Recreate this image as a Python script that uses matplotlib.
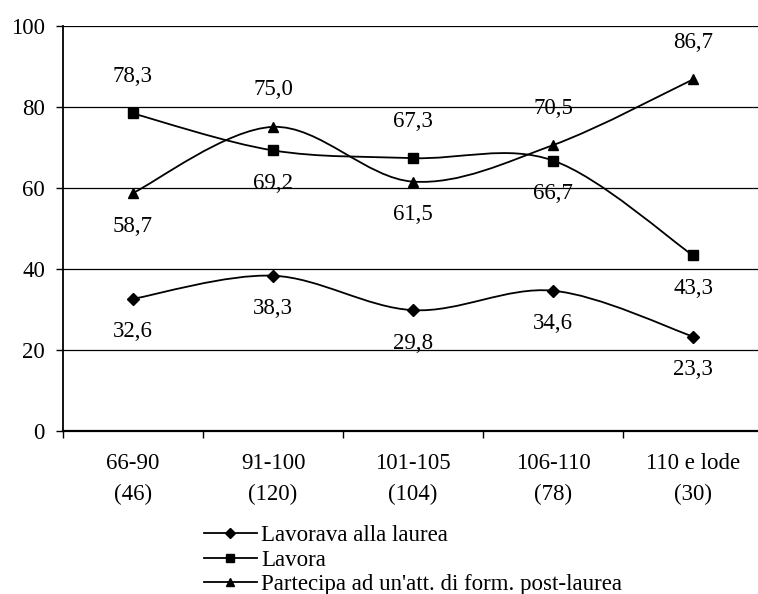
import matplotlib
matplotlib.use("Agg")
import matplotlib.pyplot as plt
from matplotlib.path import Path
from matplotlib.patches import PathPatch
from matplotlib.lines import Line2D
import numpy as np

categories = ["66-90\n(46)", "91-100\n(120)", "101-105\n(104)", "106-110\n(78)", "110 e lode\n(30)"]
lavorava = [32.6, 38.3, 29.8, 34.6, 23.3]
lavora = [78.3, 69.2, 67.3, 66.7, 43.3]
partecipa = [58.7, 75.0, 61.5, 70.5, 86.7]
series_names = ["Lavorava alla laurea", "Lavora", "Partecipa ad un'att. di form. post-laurea"]

# label placement: +1 above, -1 below
lavorava_pos = [-1, -1, -1, -1, -1]
lavora_pos = [1, -1, 1, -1, -1]
partecipa_pos = [-1, 1, -1, 1, 1]

plt.rcParams['font.family'] = ['Liberation Serif', 'DejaVu Serif']
FS = 16.5

fig = plt.figure(figsize=(7.58, 5.94), dpi=100)
ax = fig.add_axes([63/758, 1-431/594, 700/758, (431-25.5)/594])
ax.set_xlim(-0.5, 4.5)
ax.set_ylim(0, 100)


def smooth_path(xs, ys):
    pts = np.column_stack([xs, ys]).astype(float)
    n = len(pts)
    verts = [pts[0]]
    codes = [Path.MOVETO]
    for i in range(n - 1):
        p0 = pts[i - 1] if i > 0 else pts[i]
        p1 = pts[i]
        p2 = pts[i + 1]
        p3 = pts[i + 2] if i + 2 < n else pts[i + 1]
        c1 = p1 + (p2 - p0) / 6.0
        c2 = p2 - (p3 - p1) / 6.0
        verts += [c1, c2, p2]
        codes += [Path.CURVE4] * 3
    return Path(verts, codes)


x = np.arange(len(categories))
markers = ["D", "s", "^"]
msizes = [6.5, 7, 7.5]
data = [lavorava, lavora, partecipa]
poss = [lavorava_pos, lavora_pos, partecipa_pos]
LW = 1.3
for vals, m, ms, pos in zip(data, markers, msizes, poss):
    ax.add_patch(PathPatch(smooth_path(x, vals), facecolor="none", edgecolor="black", lw=LW, zorder=3))
    ax.plot(x, vals, linestyle="none", marker=m, ms=ms, color="black", zorder=4, clip_on=False)
    for xi, v, p in zip(x, vals, pos):
        off = 26.6 if p > 0 else -23.8
        ax.annotate(f"{v:.1f}".replace(".", ","), (xi, v), xytext=(0, off), textcoords="offset points",
                    ha="center", va="center", fontsize=FS)

ax.set_yticks([0, 20, 40, 60, 80, 100])
ax.grid(axis="y", color="black", lw=0.9)
ax.set_axisbelow(True)
ax.set_xticks(np.arange(-0.5, 5.0, 1.0))
ax.set_xticklabels([])
ax.set_xticks(x, minor=True)
ax.set_xticklabels(categories, minor=True, fontsize=FS, linespacing=1.58)
ax.tick_params(axis="x", which="minor", length=0, pad=16)
ax.tick_params(axis="x", which="major", length=5, width=1, direction="out")
ax.tick_params(axis="y", length=5, width=1, labelsize=FS, pad=8)
for s in ["top", "right"]:
    ax.spines[s].set_visible(False)
ax.spines["left"].set_linewidth(1.3)
ax.spines["bottom"].set_linewidth(1.6)

handles = [Line2D([], [], color="black", lw=LW, marker=m, ms=ms * 0.85) for m, ms in zip(markers, msizes)]
fig.legend(handles, series_names, loc="upper left", bbox_to_anchor=(204/758, 1-525/594),
           frameon=False, fontsize=FS, handlelength=2.3, handletextpad=0.18, labelspacing=0.16,
           borderpad=0, borderaxespad=0)

fig.savefig("out.png", dpi=100)
